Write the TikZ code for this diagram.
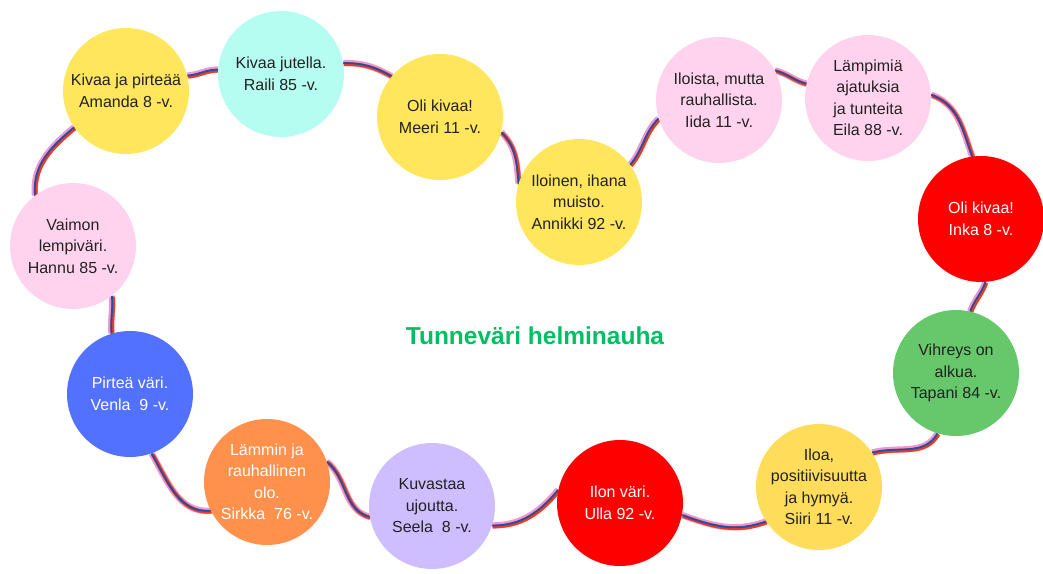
\documentclass[tikz,border=0pt]{standalone}
\usepackage{fontspec}
\setmainfont{Liberation Sans}
\usepackage{tikz}
\usetikzlibrary{
  calc
}
\pgfdeclarelayer{cords}
\pgfsetlayers{cords,main}
\definecolor{beadyellow}{RGB}{255,230,92}
\definecolor{beadsun}{RGB}{255,220,90}
\definecolor{beadcyan}{RGB}{180,253,240}
\definecolor{beadpink}{RGB}{255,211,238}
\definecolor{beadred}{RGB}{255,0,0}
\definecolor{beadgreen}{RGB}{102,200,106}
\definecolor{beadorange}{RGB}{255,145,77}
\definecolor{beadlilac}{RGB}{207,190,255}
\definecolor{beadblue}{RGB}{82,113,255}
\definecolor{darktext}{RGB}{34,34,34}
\definecolor{titlegreen}{RGB}{0,191,99}
\definecolor{cordpink}{RGB}{242,150,205}
\definecolor{cordred}{RGB}{235,60,30}
\definecolor{cordblue}{RGB}{30,80,165}
\tikzset{
  bead/.style={
    circle,
    minimum size=126pt,
    inner sep=0pt,
    align=center,
    text=darktext,
    font=\fontsize{16}{21.5}\selectfont
  },
  yellowbead/.style={bead,fill=beadyellow},
  sunbead/.style={bead,fill=beadsun},
  cyanbead/.style={bead,fill=beadcyan},
  pinkbead/.style={bead,fill=beadpink},
  redbead/.style={bead,fill=beadred,text=white},
  greenbead/.style={bead,fill=beadgreen},
  orangebead/.style={bead,fill=beadorange,text=white},
  lilacbead/.style={bead,fill=beadlilac},
  bluebead/.style={bead,fill=beadblue,text=white},
  cord/.style={
    draw=cordblue,line width=1.8pt,
    preaction={draw=cordpink,line width=6.4pt},
    preaction={draw=cordred,line width=3.6pt,
      transform canvas={shift={(1pt,-1pt)}}}
  },
}

\begin{document}
\begin{tikzpicture}[x=1pt,y=1pt]
  \useasboundingbox (0,0) rectangle (1043,573);
  \node[yellowbead] (amanda) at (126,482) {Kivaa ja pirteää\\Amanda 8 -v.};
  \node[cyanbead] (raili) at (281,499) {Kivaa jutella.\\Raili 85 -v.};
  \node[yellowbead] (meeri) at (440,456) {Oli kivaa!\\Meeri 11 -v.};
  \node[yellowbead] (annikki) at (579,371) {Iloinen, ihana\\muisto.\\Annikki 92 -v.};
  \node[pinkbead] (iida) at (719,473) {Iloista, mutta\\rauhallista.\\Iida 11 -v.};
  \node[pinkbead] (eila) at (868,475) {Lämpimiä\\ajatuksia\\ja tunteita\\Eila 88 -v.};
  \node[redbead] (inka) at (981,354) {Oli kivaa!\\Inka 8 -v.};
  \node[greenbead] (tapani) at (956,200) {Vihreys on\\alkua.\\Tapani 84 -v.};
  \node[sunbead] (siiri) at (819,86) {Iloa,\\positiivisuutta\\ja hymyä.\\Siiri 11 -v.};
  \node[redbead] (ulla) at (620,70) {Ilon väri.\\Ulla 92 -v.};
  \node[lilacbead] (seela) at (432,67) {Kuvastaa\\ujoutta.\\Seela~~8 -v.};
  \node[orangebead] (sirkka) at (267,91) {Lämmin ja\\rauhallinen\\olo.\\Sirkka~~76 -v.};
  \node[bluebead] (venla) at (130,179) {Pirteä väri.\\Venla~~9 -v.};
  \node[pinkbead] (hannu) at (73,327) {Vaimon\\lempiväri.\\Hannu 85 -v.};
  \node[font=\bfseries\fontsize{24.5}{28}\selectfont,text=titlegreen] (title) at (535,237) {Tunneväri helminauha};
  % the cord through the beads
  \begin{pgfonlayer}{cords}
    \draw[cord] (amanda.14) to[out=5,in=180] (raili.176);
    \draw[cord] (raili.10) to[out=0,in=150] (meeri.140);
    \draw[cord] (meeri.-14) to[out=-45,in=95] (annikki.163);
    \draw[cord] (annikki.36) to[out=50,in=225] (iida.197);
    \draw[cord] (iida.28) to[out=-15,in=165] (eila.167);
    \draw[cord] (eila.3) to[out=-20,in=110] (inka.98);
    \draw[cord] (inka.-86) to[out=-110,in=70] (tapani.77);
    \draw[cord] (tapani.-107) to[out=-120,in=15] (siiri.33);
    \draw[cord] (siiri.213) to[out=-160,in=-20] (ulla.-11);
    \draw[cord] (ulla.168) to[out=230,in=0] (seela.-18);
    \draw[cord] (seela.190) to[out=165,in=-40] (sirkka.19);
    \draw[cord] (sirkka.207) to[out=185,in=-60] (venla.-70);
    \draw[cord] (venla.107) to[out=95,in=-85] (hannu.-52);
    \draw[cord] (hannu.127) to[out=95,in=220] (amanda.215);
  \end{pgfonlayer}
\end{tikzpicture}
\end{document}
